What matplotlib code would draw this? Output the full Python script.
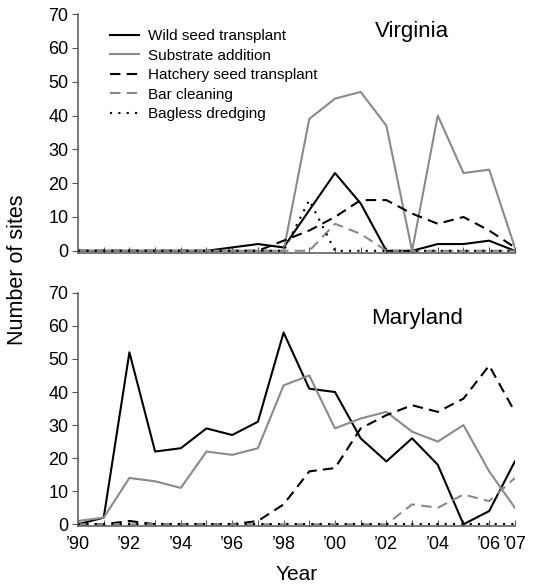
import numpy as np
import matplotlib
matplotlib.use('Agg')
import matplotlib.pyplot as plt

plt.rcParams['font.family'] = ['Liberation Sans', 'DejaVu Sans']

years = np.arange(1990, 2008)

# Virginia
va_wild = [0, 0, 0, 0, 0, 0, 1, 2, 1, 12, 23, 14, 0, 0, 2, 2, 3, 0]
va_substrate = [0, 0, 0, 0, 0, 0, 0, 0, 0, 39, 45, 47, 37, 0, 40, 23, 24, 1]
va_hatchery = [0, 0, 0, 0, 0, 0, 0, 0, 3, 6, 10, 15, 15, 11, 8, 10, 6, 1]
va_bar = [0, 0, 0, 0, 0, 0, 0, 0, 0, 0, 8, 5, 0, 0, 0, 0, 0, 0]
va_bagless = [0, 0, 0, 0, 0, 0, 0, 0, 0, 15, 0, 0, 0, 0, 0, 0, 0, 0]

# Maryland
md_wild = [0, 2, 52, 22, 23, 29, 27, 31, 58, 41, 40, 26, 19, 26, 18, 0, 4, 19]
md_substrate = [1, 2, 14, 13, 11, 22, 21, 23, 42, 45, 29, 32, 34, 28, 25, 30, 16, 5]
md_hatchery = [0, 0, 1, 0, 0, 0, 0, 1, 6, 16, 17, 29, 33, 36, 34, 38, 48, 34]
md_bar = [0, 0, 0, 0, 0, 0, 0, 0, 0, 0, 0, 0, 0, 6, 5, 9, 7, 14]
md_bagless = [0] * 18

labels = ['Wild seed transplant', 'Substrate addition', 'Hatchery seed transplant',
          'Bar cleaning', 'Bagless dredging']
xlabels = ['\u2019%02d' % (y % 100) if (y % 2 == 0 or y == 2007) else '' for y in years]

grey = '#8a8a8a'
styles = [dict(color='black', ls='-'),
          dict(color=grey, ls='-'),
          dict(color='black', ls=(0, (5, 3))),
          dict(color=grey, ls=(0, (5, 3))),
          dict(color='black', ls=(0, (1, 3)))]

fig = plt.figure(figsize=(5.38, 5.88), dpi=100)
ax1 = fig.add_axes([0.145, 0.570, 0.812, 0.406])
ax2 = fig.add_axes([0.145, 0.105, 0.812, 0.397])

for ax, data, name, tx, ty in [(ax1, [va_wild, va_substrate, va_hatchery, va_bar, va_bagless], 'Virginia', 2003.0, 64.8),
                               (ax2, [md_wild, md_substrate, md_hatchery, md_bar, md_bagless], 'Maryland', 2003.2, 62.2)]:
    for d, st, lab in zip(data, styles, labels):
        ax.plot(years, d, lw=1.5, label=lab, **st)
    ax.set_xlim(1990, 2007)
    ax.set_ylim(-0.6, 70)
    ax.set_yticks(range(0, 71, 10))
    ax.set_xticks(years)
    ax.spines['top'].set_visible(False)
    ax.spines['right'].set_visible(False)
    for s in ['left', 'bottom']:
        ax.spines[s].set_color('#555555')
        ax.spines[s].set_linewidth(1.1)
    ax.tick_params(axis='y', colors='#555555', labelcolor='black', labelsize=13, length=4, pad=3)
    ax.tick_params(axis='x', direction='in', colors='#555555', labelcolor='black', labelsize=13, length=4, pad=7)
    ax.text(tx, ty, name, fontsize=16, ha='center', va='center')

ax1.set_xticklabels([])
ax2.set_xticklabels(xlabels)
ax1.legend(loc='upper left', bbox_to_anchor=(0.052, 0.975), frameon=False, fontsize=11,
           handlelength=1.9, handletextpad=0.6, labelspacing=0.36, borderaxespad=0.2)
ax2.set_xlabel('Year', fontsize=15, labelpad=9)
fig.text(0.033, 0.542, 'Number of sites', rotation=90, fontsize=15.5, ha='center', va='center')

fig.savefig('out.png', dpi=100)
